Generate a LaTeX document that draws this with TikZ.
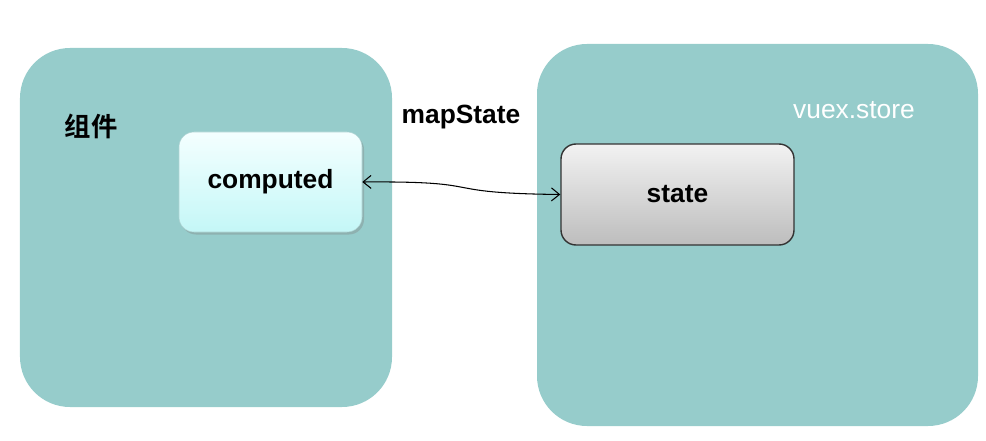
\documentclass[tikz,border=0pt]{standalone}
\usepackage{fontspec}
\setmainfont{Liberation Sans}
\newfontfamily\cjk{Noto Sans CJK SC}[BoldFont={Noto Sans CJK SC Bold}]
\usepackage{tikz}
\usetikzlibrary{arrows.meta, positioning, shadows}
\definecolor{panelteal}{HTML}{96CCCB}
\definecolor{cyantop}{HTML}{F4FFFF}
\definecolor{cyanbot}{HTML}{C4F7F7}
\definecolor{graytop}{HTML}{F2F2F2}
\definecolor{graybot}{HTML}{BDBDBD}

\begin{document}
\begin{tikzpicture}[
    every node/.style={font=\fontsize{15}{18}\selectfont},
    panel/.style={fill=panelteal, draw=none, rounded corners=1cm},
    compbox/.style={
        rectangle,
        rounded corners=0.3cm,
        draw=cyanbot!70!gray,
        line width=0.3pt,
        top color=cyantop,
        bottom color=cyanbot,
        minimum width=3.66cm,
        minimum height=2cm,
        drop shadow={shadow xshift=0.04cm, shadow yshift=-0.05cm, opacity=0.35},
        font=\fontsize{15}{18}\selectfont\bfseries
    },
    statebox/.style={
        rectangle,
        rounded corners=0.3cm,
        draw=black!80,
        line width=0.8pt,
        top color=graytop,
        bottom color=graybot,
        minimum width=4.66cm,
        minimum height=2.02cm,
        font=\fontsize{15}{18}\selectfont\bfseries
    },
    link/.style={<->, >={Straight Barb[length=1.6mm, width=2.6mm]}, line width=0.6pt}
]
\useasboundingbox (0,0) rectangle (19.72,8.8);

% the two containers
\node[panel, minimum width=7.44cm, minimum height=7.18cm] (component) at (4.12,4.25) {};
\node[panel, minimum width=8.82cm, minimum height=7.64cm] (store) at (15.15,4.10) {};

% inner boxes
\node[compbox] (computed) at (5.41,5.16) {computed};
\node[statebox] (state) at (13.55,4.91) {state};

% labels
\node (complabel) at (1.82,6.28) {\cjk\bfseries 组件};
\node[font=\fontsize{15}{18}\selectfont\bfseries] (mapstate) at (9.22,6.46) {mapState};
\node[text=white] (storelabel) at (17.08,6.60) {vuex.store};

% connection
\draw[link] (computed.east) .. controls (9.9,5.18) and (8.6,4.94) .. (state.west);

\end{tikzpicture}
\end{document}
